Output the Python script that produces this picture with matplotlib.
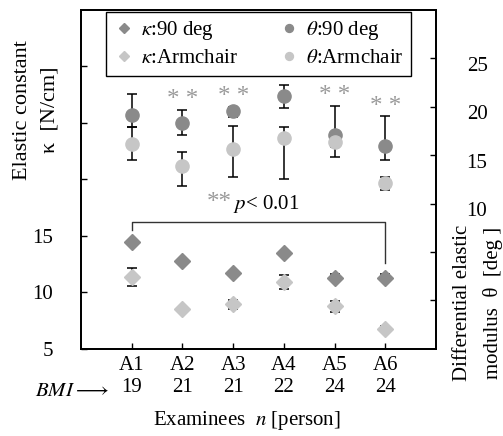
import numpy as np
import matplotlib
matplotlib.use('Agg')
import matplotlib.pyplot as plt
import matplotlib.transforms as mtransforms

plt.rcParams['font.family'] = ['Liberation Serif', 'DejaVu Serif']
plt.rcParams['mathtext.fontset'] = 'stix'

# examinees and their BMI
names = ['A1', 'A2', 'A3', 'A4', 'A5', 'A6']
bmi = [19, 21, 21, 22, 24, 24]

# elastic constant kappa [N/cm] (left axis)
kappa_90 = [14.5, 12.75, 11.7, 13.5, 11.3, 11.3]
kappa_90_err = [0.15, 0.15, 0.2, 0.15, 0.3, 0.3]
kappa_arm = [11.35, 8.5, 8.95, 10.9, 8.75, 6.75]
kappa_arm_err = [0.8, 0.15, 0.4, 0.6, 0.5, 0.3]

# differential elastic modulus theta [deg] (right axis)
theta_90 = [19.15, 18.35, 19.55, 21.1, 17.1, 16.0]
theta_90_lo = [1.25, 1.25, 0.6, 1.2, 2.3, 1.5]
theta_90_hi = [2.15, 1.35, 0.4, 1.2, 3.0, 3.0]
theta_arm = [16.2, 13.9, 15.6, 16.8, 16.4, 12.1]
theta_arm_lo = [1.7, 2.1, 2.8, 4.3, 0.5, 0.7]
theta_arm_hi = [1.7, 1.4, 2.4, 1.1, 0.5, 0.7]

# examinees marked ** (p < 0.01)
signif = [False, True, True, False, True, True]

dark = '#8a8a8a'
light = '#c6c6c6'
x = np.arange(1, len(names) + 1)
fs = 15

fig = plt.figure(figsize=(5.03, 4.36), dpi=100)
ax = fig.add_axes([0.161, 0.2, 0.706, 0.777])
ax2 = ax.twinx()

eb_kw = dict(ecolor='black', elinewidth=1.1, capsize=3.3, capthick=1.1, linestyle='none')
k90 = ax.errorbar(x, kappa_90, yerr=kappa_90_err, fmt='D', ms=8, color=dark, mec=dark, **eb_kw)
karm = ax.errorbar(x, kappa_arm, yerr=kappa_arm_err, fmt='D', ms=8, color=light, mec=light, **eb_kw)
t90 = ax2.errorbar(x, theta_90, yerr=[theta_90_lo, theta_90_hi], fmt='o', ms=9.5, color=dark, mec=dark, **eb_kw)
tarm = ax2.errorbar(x, theta_arm, yerr=[theta_arm_lo, theta_arm_hi], fmt='o', ms=9.5, color=light, mec=light, **eb_kw)

# significance stars above the theta 90 deg bars
for xi, yi, hi, s in zip(x, theta_90, theta_90_hi, signif):
    if s:
        ax2.text(xi, yi + hi + 0.4, '* *', ha='center', va='baseline', fontsize=18, color='#9a9a9a')

# bracket from A1 to A6
ax.plot([1, 1, 6, 6], [15.5, 16.2, 16.2, 12.6], color='#333333', lw=1.0)
ax.text(2.72, 17.4, '**', ha='center', va='baseline', fontsize=18, color='#9a9a9a')
ax.text(3.0, 17.4, r'$p$< 0.01', ha='left', va='baseline', fontsize=fs)

ax.set_xlim(0, 7)
ax.set_ylim(5, 35)
ax2.set_ylim(-5, 30)

ax.set_xticks(x, [f'{n}\n{b}' for n, b in zip(names, bmi)])
for lbl in ax.get_xticklabels():
    lbl.set_linespacing(1.25)
ax.set_yticks([5, 10, 15, 20, 25, 30], ['5', '10', '15', '', '', ''])
ax2.set_yticks([0, 5, 10, 15, 20, 25], ['', '', '10', '15', '20', '25'])

ax.tick_params(axis='x', direction='in', length=4, width=1, labelsize=fs, pad=5)
ax.tick_params(axis='y', direction='in', length=4, width=1, labelsize=fs, pad=20)
ax2.tick_params(axis='y', direction='in', length=4, width=1, labelsize=fs, pad=22)
offset = mtransforms.ScaledTranslation(0, -4 / 72, fig.dpi_scale_trans)
for lbl in ax2.get_yticklabels():
    lbl.set_transform(lbl.get_transform() + offset)

for sp in ax.spines.values():
    sp.set_linewidth(1.3)
for sp in ax2.spines.values():
    sp.set_linewidth(1.3)

leg = ax2.legend([k90[0], karm[0], t90[0], tarm[0]],
                 [r'$\kappa$:90 deg', r'$\kappa$:Armchair', r'$\theta$:90 deg', r'$\theta$:Armchair'],
                 ncol=2, loc='upper center', bbox_to_anchor=(0.5, 1.0), borderaxespad=0.1,
                 fontsize=fs, markerscale=0.6, handlelength=1.0, handletextpad=0.3,
                 columnspacing=2.0, labelspacing=0.3, borderpad=0.35, fancybox=False,
                 edgecolor='black', framealpha=1)
leg.get_frame().set_linewidth(1.0)

fig.text(36 / 503, 1 - 110 / 436, 'Elastic constant\nκ  [N/cm]', rotation=90,
         ha='center', va='center', multialignment='center', fontsize=16, linespacing=1.6)
fig.text(478 / 503, 1 - 303 / 436, 'Differential elastic\nmodulus  θ  [deg ]', rotation=90,
         ha='center', va='center', multialignment='center', fontsize=15, linespacing=1.7)
fig.text(247 / 503, 1 - 420 / 436, r'Examinees  $n$ [person]', ha='center', va='center', fontsize=fs)
fig.text(35 / 503, 1 - 391 / 436, r'$BMI\longrightarrow$', ha='left', va='center', fontsize=fs)

fig.savefig('out.png', dpi=100)
